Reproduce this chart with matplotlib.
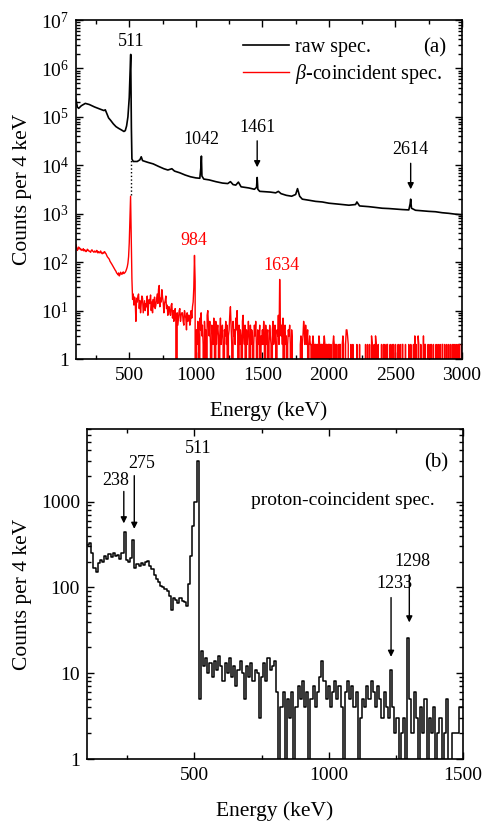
import numpy as np
import matplotlib
matplotlib.use("Agg")
import matplotlib.pyplot as plt
from matplotlib.ticker import MultipleLocator, LogLocator, FuncFormatter, NullFormatter

plt.rcParams['font.family'] = ['Liberation Serif', 'DejaVu Serif']
plt.rcParams['mathtext.fontset'] = 'custom'
plt.rcParams['mathtext.rm'] = 'Liberation Serif'
plt.rcParams['mathtext.it'] = 'Liberation Serif:italic'

# (a) raw gamma spectrum (keV, counts per 4 keV)
raw_energy = [100, 110, 120, 140, 170, 200, 240, 280, 310, 320, 330, 345, 360, 380,
              400, 420, 440, 460, 470, 480, 490, 500, 506, 511, 516, 520, 530, 560,
              580, 590, 600, 640, 680, 720, 760, 790, 820, 840, 880, 920, 960, 1000,
              1030, 1038, 1042, 1046, 1060, 1100, 1150, 1200, 1240, 1260, 1280, 1300,
              1320, 1340, 1370, 1400, 1440, 1456, 1461, 1466, 1480, 1520, 1560, 1600,
              1620, 1640, 1680, 1720, 1750, 1764, 1780, 1800, 1850, 1900, 1950, 2000,
              2050, 2100, 2150, 2200, 2210, 2230, 2300, 2350, 2400, 2450, 2500, 2550,
              2600, 2610, 2614, 2620, 2650, 2700, 2750, 2800, 2850, 2900, 2950, 3000]
raw_counts = [2.3e5, 1.6e5, 1.5e5, 1.7e5, 1.9e5, 1.8e5, 1.6e5, 1.45e5, 1.35e5, 1.4e5,
              1.2e5, 9.5e4, 8.5e4, 7.2e4, 6.3e4, 5.8e4, 5.4e4, 5.0e4, 5.2e4, 6.5e4,
              1.0e5, 2.5e5, 8e5, 1.95e6, 6e4, 1.35e4, 1.2e4, 1.2e4, 1.3e4, 1.5e4,
              1.25e4, 1.15e4, 1.07e4, 9.5e3, 8.5e3, 8.0e3, 8.5e3, 7.6e3, 7.0e3, 6.3e3,
              5.8e3, 5.5e3, 5.4e3, 9e3, 1.55e4, 6e3, 5.2e3, 5.0e3, 4.6e3, 4.3e3, 4.2e3,
              4.6e3, 4.0e3, 3.9e3, 4.5e3, 3.6e3, 3.5e3, 3.4e3, 3.2e3, 3.5e3, 5.6e3,
              3.2e3, 2.9e3, 2.85e3, 2.8e3, 2.7e3, 2.9e3, 2.6e3, 2.4e3, 2.3e3, 2.5e3,
              3.3e3, 2.3e3, 2.0e3, 1.9e3, 1.8e3, 1.75e3, 1.65e3, 1.6e3, 1.55e3, 1.5e3,
              1.55e3, 1.75e3, 1.45e3, 1.4e3, 1.35e3, 1.3e3, 1.28e3, 1.25e3, 1.22e3,
              1.2e3, 1.6e3, 2.0e3, 1.3e3, 1.18e3, 1.15e3, 1.12e3, 1.1e3, 1.05e3,
              1.02e3, 980, 950]

# (a) beta-coincident spectrum, 5 keV steps from 100 keV (one row = 100 keV)
beta_start, beta_step = 100, 5
beta_counts = [
    230, 200, 175, 185, 205, 195, 190, 180, 185, 175, 180, 190, 170, 180, 175, 165, 170, 185, 180, 170,  # 100
    170, 165, 160, 175, 180, 170, 165, 160, 170, 165, 160, 175, 170, 155, 165, 160, 155, 170, 160, 150,  # 200
    150, 160, 155, 165, 155, 150, 140, 130, 125, 120, 115, 105, 100, 95, 90, 85, 80, 75, 72, 68,          # 300
    65, 60, 58, 55, 60, 52, 55, 62, 58, 56, 60, 63, 58, 60, 62, 66, 72, 80, 95, 130,                      # 400
    250, 800, 2300, 300, 45, 17, 22, 13, 19, 15, 6, 18, 15, 20, 22, 11, 16, 9, 14, 20,                    # 500
    18, 9, 12, 16, 10, 14, 12, 20, 8, 13, 17, 14, 21, 10, 15, 9, 17, 12, 19, 11,                          # 600
    13, 17, 22, 14, 28, 33, 12, 18, 15, 27, 19, 15, 9, 14, 16, 20, 11, 13, 8, 12,                         # 700
    12, 9, 8, 13, 14, 7, 10, 6, 9, 11, 6, 0, 9, 5, 7, 10, 11, 6, 8, 9,                                    # 800
    9, 6, 5, 10, 8, 7, 4, 9, 6, 8, 8, 5, 6, 10, 7, 12, 15, 30, 138, 40,                                   # 900
    0, 4, 2, 6, 3, 0, 7, 4, 9, 3, 5, 2, 0, 6, 3, 4, 0, 8, 10, 5,                                          # 1000
    3, 6, 2, 0, 5, 4, 2, 7, 3, 0, 6, 2, 4, 5, 3, 0, 3, 7, 2, 4,                                           # 1100
    5, 2, 0, 4, 3, 6, 2, 5, 0, 3, 4, 8, 12, 5, 2, 0, 6, 3, 4, 2,                                          # 1200
    7, 4, 10, 3, 0, 5, 2, 4, 3, 0, 6, 8, 3, 2, 5, 0, 4, 2, 3, 6,                                          # 1300
    3, 0, 5, 2, 4, 3, 0, 2, 5, 3, 6, 2, 0, 4, 3, 2, 5, 0, 3, 2,                                           # 1400
    4, 2, 6, 3, 0, 5, 2, 3, 4, 0, 2, 5, 3, 2, 0, 4, 6, 2, 3, 5,                                           # 1500
    2, 0, 4, 3, 8, 2, 44, 6, 3, 5, 2, 7, 0, 4, 5, 2, 3, 0, 2, 4,                                          # 1600
    3, 5, 2, 0, 4, 2, 0, 0, 0, 0, 0, 0, 0, 0, 0, 0, 0, 2, 3, 0,                                           # 1700
    2, 3, 6, 4, 2, 5, 3, 2, 4, 0, 2, 3, 2, 2, 0, 2, 3, 2, 0, 2,                                           # 1800
    2, 0, 2, 2, 0, 3, 2, 0, 2, 2, 2, 0, 2, 3, 2, 0, 2, 2, 0, 2,                                           # 1900
    2, 2, 0, 2, 0, 0, 2, 3, 2, 0, 2, 2, 0, 0, 2, 0, 2, 2, 0, 0,                                           # 2000
    2, 3, 2, 0, 0, 2, 4, 4, 3, 2, 0, 0, 0, 2, 0, 0, 2, 0, 0, 0,                                           # 2100
    0, 0, 2, 0, 0, 0, 2, 0, 0, 0, 0, 0, 0, 0, 0, 2, 0, 0, 2, 0,                                           # 2200
    0, 2, 0, 0, 3, 2, 0, 0, 2, 0, 3, 2, 0, 0, 2, 0, 0, 0, 0, 2,                                           # 2300
    0, 0, 2, 0, 2, 0, 0, 2, 2, 0, 0, 0, 2, 0, 0, 2, 0, 2, 0, 0,                                           # 2400
    2, 0, 0, 0, 2, 0, 0, 2, 0, 0, 2, 2, 0, 0, 0, 2, 0, 0, 0, 0,                                           # 2500
    2, 0, 0, 2, 0, 0, 0, 2, 0, 3, 0, 2, 0, 0, 3, 2, 0, 0, 2, 0,                                           # 2600
    0, 0, 3, 0, 2, 2, 0, 0, 0, 2, 0, 0, 2, 0, 2, 0, 0, 2, 0, 0,                                           # 2700
    0, 2, 0, 0, 2, 0, 0, 2, 0, 0, 2, 2, 0, 0, 2, 0, 0, 2, 0, 0,                                           # 2800
    2, 0, 0, 2, 0, 0, 2, 0, 2, 0, 0, 2, 0, 0, 2, 0, 2, 0, 0, 2,                                           # 2900
    2,                                                                                                    # 3000
]

# (b) proton-coincident spectrum, 8 keV bins from 100 keV
proton_start, proton_step = 100, 8
proton_counts = [
    310, 330, 250, 170, 150, 190, 210, 200, 230, 215,   # 100
    245, 225, 250, 230, 240, 215, 250, 440, 210, 195,   # 180
    220, 360, 170, 185, 175, 190, 180, 195, 205, 175,   # 260
    165, 140, 125, 115, 105, 100, 95, 90, 80, 55,       # 340
    75, 72, 65, 75, 70, 68, 60, 110, 230, 520,          # 420
    1000, 3000, 5, 18, 12, 15, 10, 13, 9, 14,           # 500
    11, 16, 12, 8, 13, 10, 15, 9, 12, 7,                # 580
    11, 14, 10, 5, 12, 9, 13, 8, 11, 10,                # 660
    3, 9, 13, 8, 15, 11, 12, 14, 6, 0,                  # 740
    4, 6, 0, 5, 3, 6, 0, 4, 7, 5,                       # 820
    8, 4, 6, 0, 5, 7, 4, 6, 9, 14,                      # 900
    8, 5, 7, 4, 6, 8, 5, 7, 4, 0,                       # 980
    6, 8, 5, 7, 4, 6, 0, 3, 5, 4,                       # 1060
    7, 5, 8, 6, 4, 7, 5, 3, 6, 4,                       # 1140
    3, 11, 4, 2, 3, 0, 2, 3, 0, 26,                     # 1220
    5, 2, 6, 3, 0, 4, 2, 5, 0, 3,                       # 1300
    2, 4, 0, 2, 3, 0, 2, 5, 0, 0,                       # 1380
    2, 2, 2, 4, 4,                                      # 1460
]

beta_energy = beta_start + beta_step * np.arange(len(beta_counts))
proton_edges = proton_start + proton_step * np.arange(len(proton_counts) + 1)


def sci_label(v, pos):
    n = int(round(np.log10(v)))
    return '1' if n == 0 else r'$10^{%d}$' % n


def style_axes(ax):
    ax.tick_params(which='both', direction='in', top=True, right=True,
                   width=1.0, labelsize=14)
    ax.tick_params(which='major', length=5)
    ax.tick_params(which='minor', length=3)
    ax.tick_params(axis='x', which='both', pad=6)
    ax.tick_params(axis='y', which='both', pad=5)
    for s in ax.spines.values():
        s.set_linewidth(1.2)


fig = plt.figure(figsize=(4.85, 8.21), dpi=100)

# ---- panel (a)
ax1 = fig.add_axes([0.1567, 0.5627, 0.796, 0.4129])
ax1.plot(raw_energy, raw_counts, color='black', lw=1.2, label='raw spec.')
ax1.plot(beta_energy, beta_counts, color='red', lw=1.0, label=r'$\beta$-coincident spec.')
ax1.vlines(511, 2.4e3, 1.3e4, colors='black', linestyles=':', lw=1.0)
ax1.set_yscale('log')
ax1.set_xlim(100, 3000)
ax1.set_ylim(1, 1e7)
ax1.xaxis.set_major_locator(MultipleLocator(500))
ax1.xaxis.set_minor_locator(MultipleLocator(250))
ax1.yaxis.set_major_locator(LogLocator(base=10, numticks=20))
ax1.yaxis.set_minor_locator(LogLocator(base=10, subs=np.arange(2, 10), numticks=20))
ax1.yaxis.set_major_formatter(FuncFormatter(sci_label))
ax1.yaxis.set_minor_formatter(NullFormatter())
style_axes(ax1)
ax1.set_xlabel('Energy (keV)', fontsize=15.5)
ax1.set_ylabel('Counts per 4 keV', fontsize=15.5)
ax1.xaxis.set_label_coords(0.5, -0.125)
ax1.yaxis.set_label_coords(-0.115, 0.5)

ax1.legend(loc='upper left', bbox_to_anchor=(0.413, 0.972), frameon=False,
           fontsize=14.5, handlelength=2.25, handletextpad=0.3, labelspacing=0.25,
           borderaxespad=0)
ax1.text(0.96, 0.918, '(a)', transform=ax1.transAxes, ha='right', va='center', fontsize=15)

ann = dict(fontsize=13, ha='center', va='baseline')
arrow = dict(arrowstyle='-|>', color='black', lw=1.0, mutation_scale=9,
             shrinkA=0, shrinkB=0)
ax1.text(511, 2.9e6, '511', **ann)
ax1.text(1042, 2.75e4, '1042', **ann)
ax1.text(1461, 4.9e4, '1461', **ann)
ax1.annotate('', xy=(1461, 9.1e3), xytext=(1461, 3.2e4), arrowprops=arrow)
ax1.text(2614, 1.7e4, '2614', **ann)
ax1.annotate('', xy=(2614, 3.2e3), xytext=(2614, 1.1e4), arrowprops=arrow)
ax1.text(984, 222, '984', color='red', **ann)
ax1.text(1645, 68, '1634', color='red', **ann)

# ---- panel (b)
ax2 = fig.add_axes([0.1794, 0.0755, 0.7753, 0.402])
ax2.plot(proton_edges, np.append(proton_counts, proton_counts[-1]),
         drawstyle='steps-post', color='black', lw=1.1)
ax2.set_yscale('log')
ax2.set_xlim(100, 1500)
ax2.set_ylim(1, 7000)
ax2.xaxis.set_major_locator(MultipleLocator(500))
ax2.xaxis.set_minor_locator(MultipleLocator(250))
ax2.yaxis.set_major_locator(LogLocator(base=10, numticks=20))
ax2.yaxis.set_minor_locator(LogLocator(base=10, subs=np.arange(2, 10), numticks=20))
ax2.yaxis.set_major_formatter(FuncFormatter(lambda v, p: '%d' % round(v)))
ax2.yaxis.set_minor_formatter(NullFormatter())
style_axes(ax2)
ax2.set_xlabel('Energy (keV)', fontsize=15.5)
ax2.set_ylabel('Counts per 4 keV', fontsize=15.5)
ax2.xaxis.set_label_coords(0.5, -0.127)
ax2.yaxis.set_label_coords(-0.146, 0.5)

ax2.text(0.96, 0.896, '(b)', transform=ax2.transAxes, ha='right', va='center', fontsize=15)
ax2.text(0.435, 0.769, 'proton-coincident spec.', transform=ax2.transAxes,
         ha='left', va='baseline', fontsize=14)
ax2.text(514, 3690, '511', **ann)
ax2.text(305, 2460, '275', **ann)
ax2.annotate('', xy=(276, 480), xytext=(276, 2000), arrowprops=arrow)
ax2.text(207, 1570, '238', **ann)
ax2.annotate('', xy=(237, 556), xytext=(237, 1310), arrowprops=arrow)
ax2.text(1311, 179, '1298', **ann)
ax2.annotate('', xy=(1300, 39), xytext=(1300, 140), arrowprops=arrow)
ax2.text(1243, 98, '1233', **ann)
ax2.annotate('', xy=(1232, 15.5), xytext=(1232, 76), arrowprops=arrow)

fig.savefig('out.png', dpi=100)
